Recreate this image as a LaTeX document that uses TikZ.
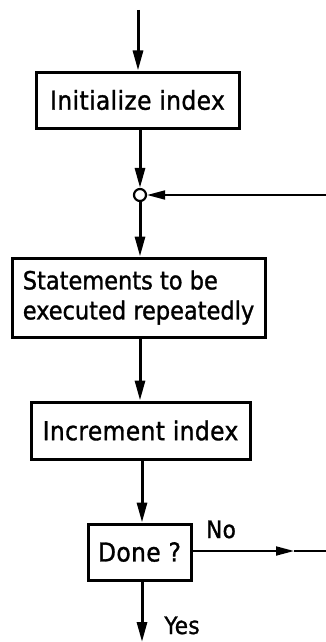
\documentclass[tikz,border=0pt]{standalone}
\usepackage{fontspec}
\setmainfont{DejaVu Sans Condensed}[LetterSpace=1.5, FakeBold=1.2]
\usetikzlibrary{arrows.meta}
\begin{document}
\begin{tikzpicture}[x=1pt,y=-1pt,
  every node/.style={font=\fontsize{26}{30}\selectfont, inner sep=0pt},
  flowbox/.style={draw, line width=3pt, minimum height=56pt},
  flow/.style={line width=3pt, -{Triangle[length=20pt,width=10pt]}},
  thin flow/.style={line width=1.8pt, -{Triangle[length=18pt,width=9pt]}},
  plain/.style={line width=1.8pt},
  label text/.style={font=\fontsize{24}{28}\selectfont, anchor=base}]
  \useasboundingbox (0,0) rectangle (326,642);

  % process boxes
  \node[flowbox, minimum width=203pt] (init) at (137.5,100) {Initialize index};
  \node[flowbox, minimum width=253pt, minimum height=79pt, align=left,
        font=\fontsize{25}{30}\selectfont\addfontfeature{LetterSpace=0}] (body) at (138.5,297.5)
    {Statements to be\\executed repeatedly};
  \node[flowbox, minimum width=219pt, minimum height=57pt] (incr) at (140.5,430.5) {Increment index};
  \node[flowbox, minimum width=103pt] (done) at (139.5,552) {Done ?};

  % junction where the loop returns
  \node[circle, draw, fill=white, line width=2.2pt, minimum size=12pt] (join) at (140,195) {};

  % free ends
  \coordinate (entry) at (138,10);
  \coordinate (loopin) at (326,195);
  \coordinate (nomid) at (294,551);
  \coordinate (noend) at (326,551);
  \coordinate (exit) at (142,642);

  % connectors
  \draw[flow] (entry) -- (entry |- init.north);
  \draw[flow] (init.south -| join) -- (join.north);
  \draw[thin flow] (loopin) -- (join.east);
  \draw[flow] (join.south) -- (join |- body.north);
  \draw[flow] (body.south -| join) -- (join |- incr.north);
  \draw[flow] (incr.south -| exit) -- (exit |- done.north);
  \draw[thin flow] (done.east |- nomid) -- (nomid);
  \draw[plain] (nomid) -- (noend);
  \draw[flow] (exit |- done.south) -- (exit);

  % branch labels
  \node[label text] (nolabel) at (221,538) {No};
  \node[label text] (yeslabel) at (182,634) {Yes};
\end{tikzpicture}
\end{document}
